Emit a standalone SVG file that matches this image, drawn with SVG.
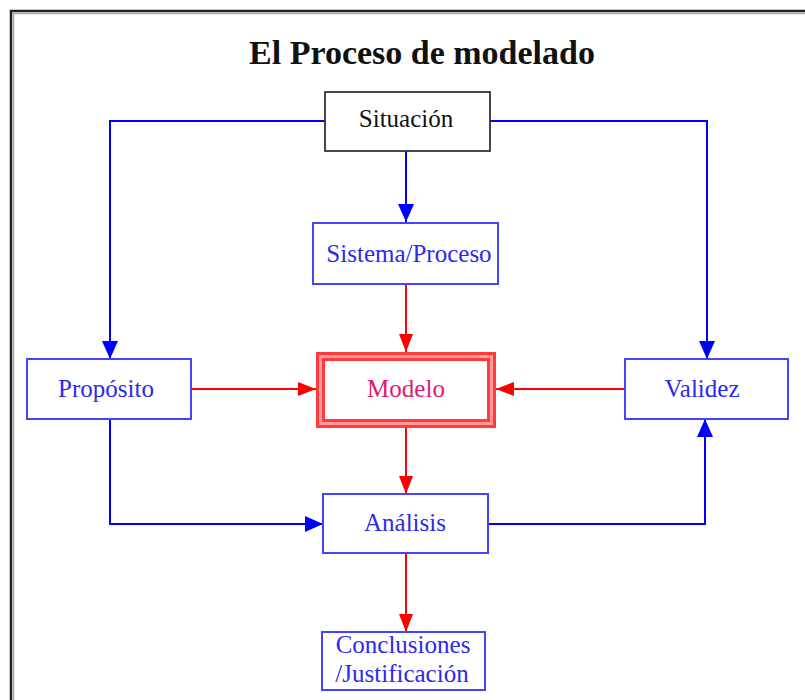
<svg xmlns="http://www.w3.org/2000/svg" width="805" height="700" viewBox="0 0 805 700">
<defs>
<marker id="ab" markerUnits="userSpaceOnUse" markerWidth="18" markerHeight="16" refX="18" refY="8" orient="auto">
<path d="M0,0 L18,8 L0,16 z" fill="#0000ff"/>
</marker>
<marker id="ar" markerUnits="userSpaceOnUse" markerWidth="18" markerHeight="16" refX="18" refY="8" orient="auto">
<path d="M0,1 L18,8 L0,15 z" fill="#ff0000"/>
</marker>
</defs>
<style>
.t{font-family:"Liberation Serif","Times New Roman",serif;font-size:25px;text-anchor:middle}
.bt{fill:#2a2aee}
.box{fill:#fff;stroke:#4444ff;stroke-width:2}
.b{fill:none;stroke:#0000ff;stroke-width:2}
.r{fill:none;stroke:#ff0000;stroke-width:2}
</style>
<rect width="805" height="700" fill="#fff"/>
<rect x="11" y="11" width="900" height="800" fill="none" stroke="#222" stroke-width="2.5"/>
<rect x="13.5" y="13.5" width="900" height="800" fill="none" stroke="#aaa" stroke-width="1.5"/>
<text x="422" y="64" font-family="Liberation Serif, Times New Roman, serif" font-size="34" font-weight="bold" text-anchor="middle" fill="#111">El Proceso de modelado</text>

<g id="connectors">
<path class="b" d="M406,151 V222" marker-end="url(#ab)"/>
<path class="b" d="M325,121 H110 V359" marker-end="url(#ab)"/>
<path class="b" d="M490,121 H707 V359" marker-end="url(#ab)"/>
<path class="r" d="M406,284 V352" marker-end="url(#ar)"/>
<path class="r" d="M190,389 H316" marker-end="url(#ar)"/>
<path class="r" d="M625,389 H496" marker-end="url(#ar)"/>
<path class="r" d="M406,428 V494" marker-end="url(#ar)"/>
<path class="b" d="M110,419 V524 H323" marker-end="url(#ab)"/>
<path class="b" d="M488,524 H705 V419" marker-end="url(#ab)"/>
<path class="r" d="M406,553 V632" marker-end="url(#ar)"/>
</g>

<g id="situacion">
<rect x="325" y="92" width="165" height="59" fill="#fff" stroke="#333" stroke-width="1.8"/>
<text class="t" x="406" y="127" fill="#111">Situación</text>
</g>
<g id="sistema">
<rect class="box" x="313" y="223" width="185" height="61"/>
<text class="t bt" x="409" y="262">Sistema/Proceso</text>
</g>
<g id="proposito">
<rect class="box" x="27" y="359" width="164" height="60"/>
<text class="t bt" x="106" y="397">Propósito</text>
</g>
<g id="validez">
<rect class="box" x="625" y="359" width="163" height="60"/>
<text class="t bt" x="702" y="397">Validez</text>
</g>
<g id="modelo">
<rect x="316" y="352" width="180" height="76" fill="#ff3b3b"/>
<rect x="319" y="355" width="174" height="70" fill="#ff9a9a"/>
<rect x="322" y="358" width="168" height="64" fill="#ff3b3b"/>
<rect x="325" y="361" width="162" height="58" fill="#fff"/>
<text class="t" x="406" y="397" fill="#e01870">Modelo</text>
</g>
<g id="analisis">
<rect class="box" x="323" y="494" width="165" height="59"/>
<text class="t bt" x="405" y="531">Análisis</text>
</g>
<g id="conclusiones">
<rect class="box" x="322" y="632" width="163" height="58"/>
<text class="t bt" x="403" y="653">Conclusiones</text>
<text class="t bt" x="402" y="682">/Justificación</text>
</g>
</svg>
